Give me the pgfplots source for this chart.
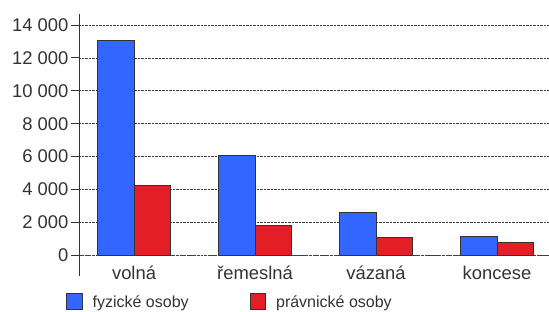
\documentclass[border=0pt]{standalone}
\usepackage{pgfplots}
\pgfplotsset{compat=1.18}
\usepackage{fontspec}
\setmainfont{Liberation Sans}
\definecolor{barblue}{HTML}{3366FF}
\definecolor{barred}{HTML}{E31E24}
\definecolor{txt}{HTML}{333333}
\begin{document}
\begin{tikzpicture}
\begin{axis}[
  scale only axis,
  width=470pt, height=262pt,
  xmin=-0.455, xmax=3.43,
  ymin=-1255, ymax=14667,
  axis lines=left,
  axis line style={-, txt, line width=0.9pt},
  x axis line style={draw=none},
  xtick={0,1,2,3},
  xticklabels={volná, řemeslná, vázaná, koncese},
  x tick style={draw=none},
  xticklabel style={anchor=base, yshift=5pt},
  ytick={0,2000,4000,6000,8000,10000,12000,14000},
  scaled y ticks=false,
  tick align=outside,
  major tick length=8pt,
  y tick style={txt, line width=0.8pt},
  ymajorgrids,
  major grid style={densely dotted, black!75, line width=0.6pt},
  extra y ticks={0},
  extra y tick labels={},
  extra y tick style={grid style={solid, txt, line width=0.9pt}},
  tick label style={font=\fontsize{18.4}{21}\selectfont, text=txt},
  /pgf/number format/assume math mode=true,
  /pgf/number format/1000 sep={\ },
  yticklabel style={xshift=1pt},
  ybar, bar width=0.3,
  legend style={draw=none, fill=none, at={(axis description cs:-0.0277,-0.065)}, anchor=north west,
    font=\fontsize{16}{19}\selectfont, text=txt, inner sep=0pt, column sep=0pt,
    /tikz/every even column/.append style={column sep=59pt}},
  legend columns=2,
  legend image code/.code={\draw[#1] (0pt,-7.5pt) rectangle (15.5pt,8pt); \path[draw=none,fill=none] (0pt,0pt) -- (24pt,0pt);},
]
\addplot[fill=barblue, draw=txt, line width=0.9pt, bar shift=-0.15] coordinates {(0,13050) (1,6080) (2,2620) (3,1150)};
\addplot[fill=barred, draw=txt, line width=0.9pt, bar shift=0.15] coordinates {(0,4260) (1,1800) (2,1110) (3,765)};
\legend{fyzické osoby, právnické osoby}
\coordinate (SW) at (rel axis cs:0,0);
\end{axis}
\pgfresetboundingbox
\path[use as bounding box] ([shift={(-79pt,-35pt)}]SW) rectangle ([shift={(470pt,276pt)}]SW);
\end{tikzpicture}
\end{document}
